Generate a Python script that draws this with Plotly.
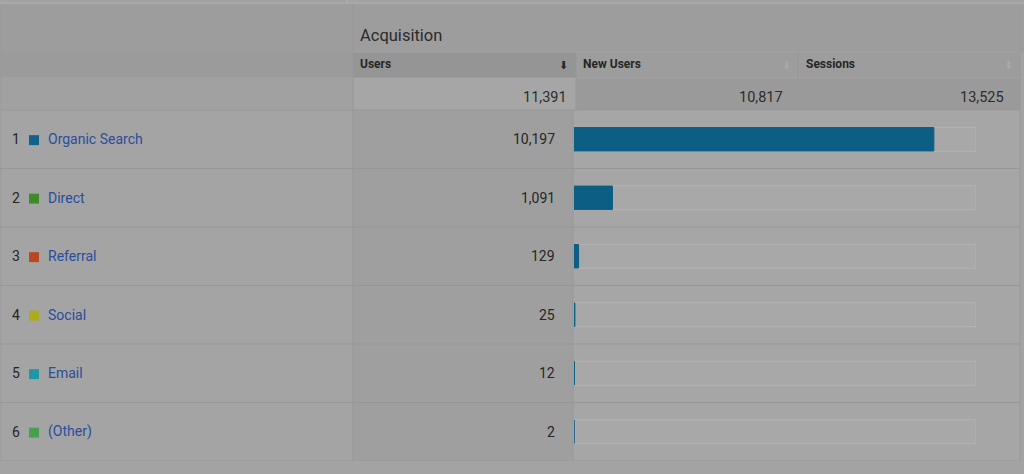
"""Acquisition table (Users by default channel grouping) with inline bars."""

import plotly.graph_objects as go

W, H = 1024, 474

# data
channels = ["Organic Search", "Direct", "Referral", "Social", "Email", "(Other)"]
users = [10197, 1091, 129, 25, 12, 2]
channel_colors = ["#10628a", "#3f8a2b", "#b8481f", "#abab1c", "#2096a6", "#46a04e"]
metric_names = ["Users", "New Users", "Sessions"]
metric_totals = [11391, 10817, 13525]
ranks = list(range(1, len(channels) + 1))

TEXT = "#262626"
LINK = "#2a4d9e"
LINE = "#979797"
FONT = "Roboto"


def px(x):
    return x / W


def py(y):
    return 1 - y / H


shapes = []


def rect(x0, y0, x1, y1, fill, line=None):
    shapes.append(dict(
        type="rect", xref="paper", yref="paper", layer="below",
        x0=px(x0), x1=px(x1), y0=py(y1), y1=py(y0),
        fillcolor=fill, line=dict(width=1 if line else 0, color=line or fill),
    ))


def hline(y, x0, x1, color=LINE):
    shapes.append(dict(type="line", xref="paper", yref="paper", layer="below",
                       x0=px(x0), x1=px(x1), y0=py(y), y1=py(y),
                       line=dict(color=color, width=1)))


def vline(x, y0, y1, color=LINE):
    shapes.append(dict(type="line", xref="paper", yref="paper", layer="below",
                       x0=px(x), x1=px(x), y0=py(y0), y1=py(y1),
                       line=dict(color=color, width=1)))


# table chrome
rect(0, 0, W, 3, "#a2a2a2")
hline(3, 0, W, "#b0b0b0")
vline(347, 0, 3, "#b0b0b0")
rect(0, 4, W, 52, "#9d9d9d")
rect(0, 52, 353, 78, "#9b9b9b")
rect(353, 52, 576, 78, "#959595")
rect(576, 52, 1020, 78, "#9d9d9d")
rect(0, 78, 353, 110, "#a1a1a1")
rect(353, 78, 576, 110, "#a6a6a6")
rect(576, 78, 1020, 110, "#9a9a9a")
rect(0, 110, 353, 461, "#a4a4a4")
rect(353, 110, 573, 461, "#9f9f9f")
rect(573, 110, 1020, 461, "#a6a6a6")
hline(52, 353, 1020, "#a3a3a3")
hline(78, 0, 1020, "#a3a3a3")
hline(110, 0, 1020)
vline(353, 4, 461)
vline(576, 52, 110)
vline(798, 52, 110)
vline(573, 110, 461)
vline(1020, 4, 461, "#9a9a9a")
vline(1, 4, 461, "#9a9a9a")
for r in ranks:
    shapes.append(dict(type="line", xref="paper", yref="y", layer="below",
                       x0=0, x1=px(1020), y0=r + 0.5, y1=r + 0.5,
                       line=dict(color=LINE, width=1)))
    shapes.append(dict(type="rect", xref="paper", yref="y", layer="above",
                       x0=px(29), x1=px(39), y0=r - 0.07, y1=r + 0.1,
                       fillcolor=channel_colors[r - 1], line=dict(width=0)))

annotations = [
    dict(text="Acquisition", x=px(358), y=py(36), xanchor="left", yanchor="middle",
         font=dict(size=16.5, color="#2b2b2b")),
]
for name, x0, x1, arrow in zip(metric_names, [358, 581, 804], [563, 786, 1008],
                                [TEXT, "#a9a9a9", "#a9a9a9"]):
    annotations.append(dict(text=f"<b>{name}</b>", x=px(x0), y=py(64), xanchor="left",
                            yanchor="middle", font=dict(size=12, color=TEXT)))
    annotations.append(dict(text="⬇", x=px(x1), y=py(65), xanchor="center",
                            yanchor="middle",
                            font=dict(size=11, color=arrow, family="DejaVu Sans")))
for total, xr in zip(metric_totals, [569, 785, 1006]):
    annotations.append(dict(text=f"{total:,}", x=px(xr), y=py(97), xanchor="right",
                            yanchor="middle", font=dict(size=14.5, color="#2c2c2c")))
for r, name, v in zip(ranks, channels, users):
    annotations.append(dict(text=str(r), x=px(16), y=r, yref="y", xanchor="center",
                            yanchor="middle", font=dict(size=14, color=TEXT)))
    annotations.append(dict(text=name, x=px(46), y=r, yref="y", xanchor="left",
                            yanchor="middle", font=dict(size=14, color=LINK)))
    annotations.append(dict(text=f"{v:,}", x=px(557), y=r, yref="y", xanchor="right",
                            yanchor="middle", font=dict(size=14, color=TEXT)))
for a in annotations:
    a.setdefault("xref", "paper")
    a.setdefault("yref", "paper")
    a["showarrow"] = False

fig = go.Figure()
# bar track = share of the total users
fig.add_trace(go.Bar(
    x=[metric_totals[0]] * len(ranks), y=ranks, orientation="h", width=0.41,
    marker=dict(color="#a8a8a8", line=dict(color="#b3b3b3", width=1)),
    hoverinfo="skip",
))
fig.add_trace(go.Bar(
    x=users, y=ranks, orientation="h", width=0.40,
    marker=dict(color="#0d5e85", line=dict(color="#0d5e85", width=1)),
    hovertemplate="%{x:,}<extra></extra>",
))

fig.update_layout(
    width=W, height=H,
    margin=dict(l=0, r=0, t=0, b=0),
    paper_bgcolor="#a3a3a3",
    plot_bgcolor="rgba(0,0,0,0)",
    barmode="overlay",
    showlegend=False,
    font=dict(family=FONT, color=TEXT),
    xaxis=dict(domain=[px(574), px(976)], range=[0, metric_totals[0]],
               visible=False, fixedrange=True),
    yaxis=dict(domain=[py(461), py(110)], range=[len(ranks) + 0.5, 0.5],
               visible=False, fixedrange=True),
    shapes=shapes,
    annotations=annotations,
)

fig.write_html(
    "out.html",
    config={"displayModeBar": False},
    post_script="document.body.style.margin='0';document.body.style.background='#a3a3a3';",
)
